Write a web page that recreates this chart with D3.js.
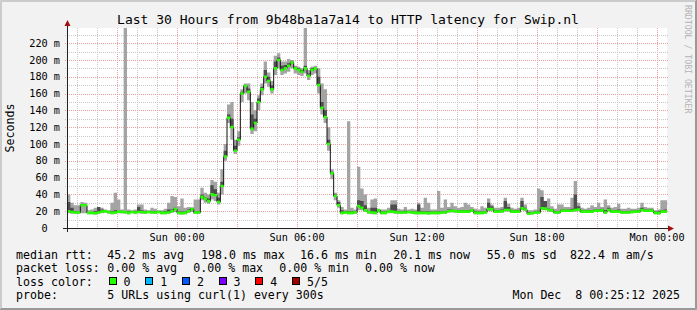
<!DOCTYPE html>
<html>
<head>
<meta charset="utf-8">
<script src="https://cdn.jsdelivr.net/npm/d3@7/dist/d3.min.js"></script>
<style>
body { margin: 0; background: #f2f2f2; }
svg { display: block; }
text { font-family: "DejaVu Sans Mono", monospace; fill: #000; }
</style>
</head>
<body>
<svg id="chart" width="697" height="310"></svg>
<script>
// 10 minute steps, Sat 18:30 -> Mon 00:30
const startTime = new Date(2025, 11, 6, 18, 30)
const stepMinutes = 10

// median rtt (ms)
const medianRtt = [
  20, 19, 18.5, 18.5, 27, 27, 18, 18, 17.5, 18.5,
  19.5, 20, 19, 18, 18.5, 19.5, 19, 19, 18, 19,
  18.5, 19, 19, 18.5, 19, 18.5, 18.5, 19, 18, 18,
  18.5, 20, 22.5, 18, 17.5, 18, 20, 22.5, 18.5, 18.5,
  37, 35, 32, 40, 39, 31, 50, 85, 131, 120,
  92, 105, 160, 169, 162, 118, 125, 150, 165, 180,
  175, 165, 190, 200, 188, 190, 193, 197, 190, 188,
  186, 190, 181, 188, 190, 170, 143, 132, 100, 65,
  38, 27, 18, 18.5, 18, 18, 18.5, 26, 24, 21,
  19, 18.5, 18, 21, 18, 18, 19.5, 19.5, 19, 18.5,
  18.5, 18.5, 19, 18.5, 18, 18, 18, 18, 17.5, 18,
  18, 18, 18.5, 18.5, 20, 20.5, 20, 19.5, 19.5, 19.5,
  19.5, 21, 18, 18, 18, 18.5, 22.5, 22.5, 19.5, 19.5,
  20, 21.5, 21.5, 19.5, 19.5, 19.5, 23.5, 22, 17, 17.5,
  18.5, 18.5, 23.5, 23, 21.5, 21, 18.5, 18.5, 20.5, 20.5,
  20.5, 20.5, 21.5, 22, 19.5, 19.5, 19.5, 19.5, 20.5, 20.5,
  21, 18.5, 21.5, 19.5, 19.5, 19.5, 18.5, 18.5, 18.5, 19,
  19.5, 19.5, 21.5, 20.5, 20.5, 20.5, 18, 17.5, 19.5, 19.5
]

// fastest of the 5 probes
const smokeLo = [
  17.5, 17, 17, 17, 17.5, 17.5, 16.5, 16.5, 16, 17,
  17.5, 18, 17, 16.5, 17, 17.5, 17.5, 17, 16.5, 17.5,
  17, 17.5, 17, 17, 17.5, 17, 17, 17.5, 16.5, 16.5,
  17, 18, 19, 16.5, 16, 16.5, 18, 19, 17, 17,
  33, 30, 29, 34, 32, 28, 40, 80, 125, 105,
  88, 98, 150, 160, 152, 112, 115, 140, 158, 172,
  168, 160, 182, 190, 182, 184, 186, 190, 184, 182,
  181, 184, 176, 182, 184, 160, 135, 125, 92, 58,
  33, 24, 16.5, 17, 16.5, 16.5, 17, 21, 21, 19,
  17, 16.5, 16.5, 18.5, 16.5, 16.5, 17.5, 17.5, 17, 17,
  17, 17, 17.5, 17, 16.5, 16.5, 16.5, 16.5, 16, 16.5,
  16.5, 16.5, 17, 17, 18.5, 18.5, 18, 18, 18, 18,
  18, 19, 16.5, 16.5, 16.5, 17, 20, 20, 18, 18,
  18, 19.5, 19.5, 18, 18, 18, 21, 20, 15.5, 16,
  17, 17, 21, 21, 19.5, 19, 17, 17, 19, 19,
  19, 19, 19.5, 20, 18, 18, 18, 18, 19, 19,
  19, 17, 19.5, 18, 18, 18, 17, 17, 17, 17.5,
  18, 18, 19.5, 19, 19, 19, 16.5, 16, 18, 18
]

// 4th of the 5 probes
const smokeDark = [
  31, 24, 20, 20, 28, 28, 19, 19, 20, 25,
  22, 21, 20, 20, 21, 20, 20, 20, 19.5, 20,
  20, 25, 21, 20, 20, 20, 20, 20, 19.5, 20,
  22, 22, 24, 20, 19.5, 19.5, 22, 24, 20, 20,
  40, 37, 35, 51, 46, 36, 55, 92, 135, 130,
  98, 108, 162, 170, 166, 135, 130, 154, 168, 188,
  180, 170, 198, 203, 193, 194, 196, 198, 192, 190,
  188, 193, 184, 190, 191, 180, 150, 140, 105, 67,
  40, 31, 21, 20, 20, 20, 20, 33, 32, 27,
  20, 24, 24, 20, 19.5, 19.5, 20.5, 28, 28, 20,
  20, 20.5, 20, 20, 19.5, 28, 20, 20, 19.5, 19.5,
  19.5, 20, 20, 20, 22, 22, 21.5, 21, 21, 21,
  21, 22.5, 20, 19.5, 19.5, 20, 30, 26, 21, 21,
  22, 32, 25, 21, 21, 21, 32, 24, 19, 19,
  20, 20.5, 37, 32, 23, 22.5, 20, 20, 22, 22,
  22, 23, 40, 26, 21, 21, 21, 21, 22, 22,
  23, 21, 24, 21, 21, 22, 20, 20, 20, 20.5,
  21, 21, 24, 22, 22, 22, 19.5, 19.5, 21, 22
]

// slowest of the 5 probes
const smokeHi = [
  40, 30, 27, 27, 31, 30, 21, 22, 24, 25,
  24, 22, 21, 30, 42, 34, 22, 250, 22, 21,
  22, 28, 28, 22, 21, 24, 23, 21, 21, 23,
  30, 38, 37, 26, 35, 24, 25, 24, 34, 34,
  48, 42, 40, 57, 55, 42, 70, 100, 147, 150,
  105, 115, 165, 172, 172, 150, 140, 158, 172, 198,
  185, 175, 205, 208, 198, 198, 201, 200, 193, 192,
  190, 250, 188, 192, 193, 190, 172, 165, 120, 70,
  42, 33, 25, 22, 127, 24, 22, 73, 47, 40,
  24, 34, 35, 23, 22, 22, 24, 33, 33, 23,
  22, 25, 22, 23, 22, 30, 24, 36, 30, 22,
  22, 44, 24, 34, 25, 30, 26, 24, 25, 30,
  28, 25, 23, 22, 26, 24, 35, 28, 24, 24,
  25, 36, 29, 24, 23, 24, 36, 28, 21, 21,
  22, 47, 45, 28, 35, 26, 23, 28, 28, 25,
  25, 36, 56, 30, 24, 23, 24, 27, 25, 30,
  25, 34, 27, 24, 25, 29, 23, 23, 24, 23,
  23, 24, 30, 25, 24, 24, 21, 22, 33, 33
]

const yTicks = [0, 20, 40, 60, 80, 100, 120, 140, 160, 180, 200, 220]
const yMax = 238

const titleText = 'Last 30 Hours from 9b48ba1a7a14 to HTTP latency for Swip.nl'
const lossLabels = ['0', '1', '2', '3', '4', '5/5']
const lossColors = ['#26ff00', '#00b8ff', '#0059ff', '#7e00ff', '#ff0000', '#a00000']
const rttStats = ['45.2 ms avg', '198.0 ms max', '16.6 ms min', '20.1 ms now', '55.0 ms sd', '822.4 m am/s']
const lossStats = ['0.00 % avg', '0.00 % max', '0.00 % min', '0.00 % now']
const probeText = '5 URLs using curl(1) every 300s'
const dateText = 'Mon Dec  8 00:25:12 2025'

var svg = d3.select('#chart')
var W = 697, H = 310
var plotL = 67, plotR = 667, plotT = 28, plotB = 228

var rows = medianRtt.map(function (m, i) {
    return { t: d3.timeMinute.offset(startTime, i * stepMinutes), med: m, lo: smokeLo[i], dark: smokeDark[i], hi: smokeHi[i] }
})
var endTime = d3.timeMinute.offset(startTime, medianRtt.length * stepMinutes)
// closing point so the last step gets its width
rows.push(Object.assign({}, rows[rows.length - 1], { t: endTime }))

var x = d3.scaleTime().domain([startTime, endTime]).range([plotL, plotR])
var y = d3.scaleLinear().domain([0, yMax]).range([plotB, plotT])

// background + 3d frame
svg.append('rect').attr('width', W).attr('height', H).attr('fill', '#f2f2f2')
svg.append('path').attr('d', `M0.5 ${H} V0.5 H${W} M1.5 ${H - 1} V1.5 H${W - 1}`).attr('stroke', '#cbcbcb').attr('fill', 'none')
svg.append('path').attr('d', `M0 ${H - 0.5} H${W - 0.5} V0 M1 ${H - 1.5} H${W - 1.5} V1`).attr('stroke', '#999').attr('fill', 'none')

svg.append('rect').attr('x', plotL).attr('y', plotT).attr('width', plotR - plotL).attr('height', plotB - plotT).attr('fill', '#fff')

// grid
var gridG = svg.append('g')
x.ticks(d3.timeHour.every(1)).forEach(function (t) {
    var px = Math.round(x(t)) + 0.5
    var major = t.getHours() % 3 == 0
    gridG.append('line').attr('x1', px).attr('x2', px).attr('y1', plotT).attr('y2', plotB + 2)
        .attr('stroke', major ? '#e9a0a0' : '#c8c8c8').attr('stroke-dasharray', '1,1')
})
d3.range(10, yMax, 10).forEach(function (v) {
    var py = Math.round(y(v)) + 0.5
    var major = v % 20 == 0
    gridG.append('line').attr('x1', plotL - 2).attr('x2', plotR + 2).attr('y1', py).attr('y2', py)
        .attr('stroke', major ? '#e9a0a0' : '#c8c8c8').attr('stroke-dasharray', '1,1')
})

// data
svg.append('clipPath').attr('id', 'plotClip').append('rect')
    .attr('x', plotL).attr('y', plotT).attr('width', plotR - plotL).attr('height', plotB - plotT)
var plotG = svg.append('g').attr('clip-path', 'url(#plotClip)')

var lightArea = d3.area().curve(d3.curveStepAfter)
    .x(d => x(d.t)).y0(d => y(d.lo)).y1(d => y(d.hi))
var darkArea = d3.area().curve(d3.curveStepAfter)
    .x(d => x(d.t)).y0(d => y(d.med)).y1(d => y(d.dark))
var medLine = d3.line().curve(d3.curveStepAfter)
    .x(d => x(d.t)).y(d => y(d.med))
var lossBand = d3.area().curve(d3.curveStepAfter)
    .x(d => x(d.t)).y0(d => y(d.med) + 1.3).y1(d => y(d.med) - 1.3)

plotG.append('path').datum(rows).attr('d', lightArea).attr('fill', '#a4a4a4')
plotG.append('path').datum(rows).attr('d', darkArea).attr('fill', '#4e4e4e')
plotG.append('path').datum(rows).attr('d', medLine).attr('fill', 'none').attr('stroke', '#111').attr('stroke-width', 1)
plotG.append('path').datum(rows).attr('d', lossBand).attr('fill', lossColors[0])

// axes
svg.append('line').attr('x1', plotL - 4).attr('x2', plotR + 3).attr('y1', plotB + 0.5).attr('y2', plotB + 0.5).attr('stroke', '#202020')
svg.append('line').attr('x1', plotL + 0.5).attr('x2', plotL + 0.5).attr('y1', plotB + 4).attr('y2', plotT - 4).attr('stroke', '#202020')
svg.append('path').attr('d', `M${plotR + 1} ${plotB - 2.5} L${plotR + 7} ${plotB + 0.5} L${plotR + 1} ${plotB + 3.5} Z`).attr('fill', '#a01010')
svg.append('path').attr('d', `M${plotL - 2.5} ${plotT - 2} L${plotL + 0.5} ${plotT - 8} L${plotL + 3.5} ${plotT - 2} Z`).attr('fill', '#a01010')

// y labels
yTicks.forEach(function (v) {
    svg.append('text').attr('x', v == 0 ? 60 - 2 * 6.14 : 60).attr('y', y(v) + 3.6)
        .attr('text-anchor', 'end').style('font-size', '10.2px')
        .text(v == 0 ? '0' : v + ' m')
})

// x labels
var fmt = d3.timeFormat('%a %H:%M')
x.ticks(d3.timeHour.every(6)).forEach(function (t) {
    svg.append('text').attr('x', x(t)).attr('y', 241).attr('text-anchor', 'middle')
        .style('font-size', '10.2px').text(fmt(t))
})

// title, axis title, watermark
svg.append('text').attr('x', 348).attr('y', 24).attr('text-anchor', 'middle').style('font-size', '13px').text(titleText)
svg.append('text').attr('transform', 'translate(14,128) rotate(-90)').attr('text-anchor', 'middle')
    .style('font-size', '11.6px').text('Seconds')
svg.append('text').attr('transform', 'translate(685,5) rotate(90)').style('font-size', '8.2px')
    .style('fill', '#b4b4b4').text('RRDTOOL / TOBI OETIKER')

// legend
var legendG = svg.append('g').style('font-size', '11.6px')
var rttX = [107.3, 201, 300, 393.3, 486.7, 570]
legendG.append('text').attr('x', 16).attr('y', 258.5).text('median rtt:')
rttStats.forEach((s, i) => legendG.append('text').attr('x', rttX[i]).attr('y', 258.5).text(s))

var lossX = [107.3, 193.3, 279.3, 365]
legendG.append('text').attr('x', 16).attr('y', 272).text('packet loss:')
lossStats.forEach((s, i) => legendG.append('text').attr('x', lossX[i]).attr('y', 272).text(s))

legendG.append('text').attr('x', 16).attr('y', 285.5).text('loss color:')
lossLabels.forEach(function (lab, i) {
    var bx = 108.5 + i * 36.7
    legendG.append('rect').attr('x', Math.round(bx) + 0.5).attr('y', 277.5).attr('width', 7).attr('height', 7)
        .attr('fill', lossColors[i]).attr('stroke', '#000')
    legendG.append('text').attr('x', bx + 15).attr('y', 285.5).text(lab)
})

legendG.append('text').attr('x', 16).attr('y', 299).text('probe:')
legendG.append('text').attr('x', 107.3).attr('y', 299).text(probeText)
legendG.append('text').attr('x', 680).attr('y', 299).attr('text-anchor', 'end').style('white-space', 'pre').text(dateText)
</script>
</body>
</html>
